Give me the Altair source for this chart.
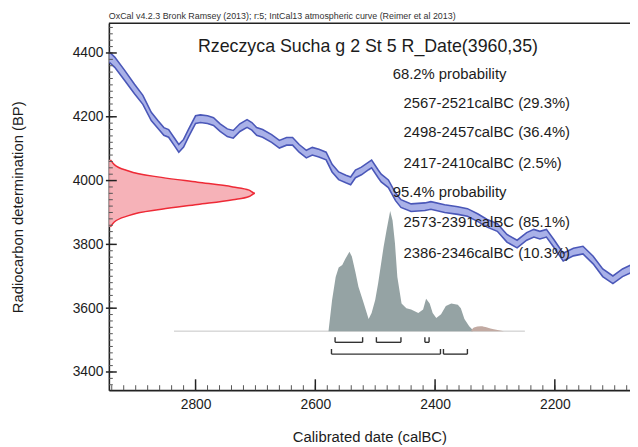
import altair as alt
import pandas as pd

# ---------------- data ----------------
# calibration curve (IntCal13) mean, calBC year vs BP
cal_year = [2944, 2935, 2919, 2902, 2888, 2874, 2863, 2853, 2845, 2836,
            2828, 2820, 2812, 2800, 2792, 2780, 2770, 2759, 2747, 2737,
            2726, 2714, 2706, 2698, 2688, 2673, 2660, 2648, 2638, 2627,
            2615, 2605, 2594, 2582, 2572, 2561, 2549, 2541, 2533, 2523,
            2511, 2506, 2495, 2490, 2478, 2466, 2457, 2440, 2417, 2407,
            2384, 2362, 2346, 2329, 2313, 2296, 2280, 2263, 2247, 2235,
            2225, 2214, 2202, 2186, 2169, 2153, 2136, 2120, 2103, 2087,
            2070]
cal_bp = [4387, 4371, 4331, 4287, 4253, 4201, 4176, 4154, 4148, 4123,
          4101, 4117, 4148, 4191, 4194, 4191, 4185, 4166, 4150, 4145,
          4166, 4179, 4170, 4154, 4148, 4132, 4114, 4123, 4123, 4101,
          4083, 4092, 4086, 4077, 4039, 4015, 4005, 3999, 4021, 4030,
          4046, 4052, 4021, 4008, 3990, 3949, 3928, 3915, 3918, 3922,
          3912, 3906, 3900, 3884, 3866, 3853, 3819, 3801, 3825, 3835,
          3829, 3835, 3804, 3760, 3776, 3782, 3751, 3711, 3689, 3711,
          3726]
cal_sigma = [16, 16, 16, 15, 14, 13, 12, 12, 12, 12,
             12, 12, 12, 12, 12, 12, 12, 12, 12, 12,
             12, 12, 12, 12, 12, 12, 12, 12, 12, 12,
             12, 12, 12, 12, 12, 12, 12, 12, 12, 12,
             12, 12, 12, 12, 12, 12, 12, 12, 12, 12,
             12, 12, 12, 12, 12, 12, 12, 12, 12, 12,
             12, 12, 12, 12, 12, 12, 12, 12, 12, 12,
             12]

# radiocarbon measurement R_Date(3960,35): relative density vs BP
red_bp = [3855, 3870, 3890, 3910, 3925, 3940, 3950, 3960, 3970, 3980, 3995, 4010, 4030, 4050, 4065]
red_d = [0.011, 0.037, 0.135, 0.36, 0.607, 0.849, 0.96, 1.0, 0.96, 0.849, 0.607, 0.36, 0.135, 0.037, 0.011]

# calibrated probability distribution (relative)
post_year = [2578, 2572, 2566, 2561, 2555, 2550, 2543, 2539, 2533, 2528,
             2519, 2511, 2506, 2500, 2495, 2486, 2481, 2475, 2471, 2467,
             2463, 2456, 2448, 2440, 2428, 2420, 2415, 2409, 2404, 2398,
             2390, 2382, 2373, 2362, 2357, 2351, 2343, 2337]
post_d = [0, 0.26, 0.45, 0.53, 0.55, 0.60, 0.66, 0.62, 0.49, 0.37,
          0.23, 0.10, 0.15, 0.26, 0.40, 0.70, 0.84, 1.0, 0.92, 0.73,
          0.45, 0.23, 0.19, 0.18, 0.15, 0.18, 0.27, 0.23, 0.15, 0.11,
          0.14, 0.21, 0.23, 0.22, 0.19, 0.10, 0.04, 0.01]
tail_year = [2340, 2335, 2324, 2313, 2302, 2285]
tail_d = [0, 0.03, 0.04, 0.03, 0.015, 0]

# ranges
r68_start = [2567, 2498, 2417]
r68_end = [2521, 2457, 2410]
r95_start = [2573, 2386]
r95_end = [2391, 2346]

title_text = "Rzeczyca Sucha g 2 St 5 R_Date(3960,35)"
header_text = "OxCal v4.2.3 Bronk Ramsey (2013); r:5; IntCal13 atmospheric curve (Reimer et al 2013)"
prob_lines = ["68.2% probability", "2567-2521calBC (29.3%)", "2498-2457calBC (36.4%)",
              "2417-2410calBC (2.5%)", "95.4% probability", "2573-2391calBC (85.1%)",
              "2386-2346calBC (10.3%)"]
prob_px = [287, 298, 298, 298, 287, 298, 298]
prob_py = [51, 81, 110, 141, 171, 201, 232]
x_labels = [2800, 2600, 2400, 2200]
y_labels = [3400, 3600, 3800, 4000, 4200, 4400]

# ---------------- layout ----------------
W, H = 527, 371
YPP = 1.6515          # years per pixel
XD = [2944.8 - W * YPP, 2944.8]
YD = [3343, 4493]
BASE = 3528          # BP level of the distribution baseline
PEAK = 377           # BP height of the distribution peak
RED_W = 244          # years width of the red peak
FONT = "Liberation Sans"
INK = "#1c1c1c"

xs = alt.Scale(domain=XD, reverse=True, nice=False, zero=False)
ys = alt.Scale(domain=YD, nice=False, zero=False)
x_axis = alt.Axis(values=x_labels, title="Calibrated date (calBC)", grid=False, ticks=False,
                  labelPadding=8, titlePadding=18, format="d")
y_axis = alt.Axis(values=y_labels, title="Radiocarbon determination (BP)", grid=False,
                  ticks=False, labelPadding=6, titlePadding=47, format="d")


def X(f):
    return alt.X(f, scale=xs, axis=x_axis)


def Y(f):
    return alt.Y(f, scale=ys, axis=y_axis)


cal = pd.DataFrame({"year": cal_year, "bp": cal_bp, "sig": cal_sigma})
cal["hi"] = cal["bp"] + cal["sig"]
cal["lo"] = cal["bp"] - cal["sig"]

red = pd.DataFrame({"bp": red_bp, "d": red_d})
red["xe"] = XD[1] - red["d"] * RED_W
red["xb"] = XD[1]

post = pd.DataFrame({"year": post_year, "d": post_d})
post["top"] = BASE + post["d"] * PEAK
post["base"] = BASE
tail = pd.DataFrame({"year": tail_year, "d": tail_d})
tail["top"] = BASE + tail["d"] * PEAK
tail["base"] = BASE

baseline = alt.Chart(pd.DataFrame({"a": [2836], "b": [2250], "bp": [BASE]})).mark_rule(
    color="#c4c4c4", strokeWidth=1).encode(x=X("a:Q"), x2="b:Q", y=Y("bp:Q"))

post_area = alt.Chart(post).mark_area(color="#95a3a4", opacity=1, interpolate="linear").encode(
    x=X("year:Q"), y=Y("top:Q"), y2="base:Q")
tail_area = alt.Chart(tail).mark_area(color="#c2aaa2", interpolate="monotone").encode(
    x=X("year:Q"), y=Y("top:Q"), y2="base:Q")

red_area = alt.Chart(red).mark_area(orient="horizontal", color="#f4a4ac", opacity=0.85,
                                    interpolate="monotone").encode(
    y=Y("bp:Q"), x=X("xe:Q"), x2="xb:Q")
red_line = alt.Chart(red).mark_line(color="#ee2a36", strokeWidth=1.5, interpolate="monotone").encode(
    y=Y("bp:Q"), x=X("xe:Q"), order=alt.Order("bp:Q"))

band = alt.Chart(cal).mark_area(color="#a9b1e8", opacity=1, clip=True).encode(
    x=X("year:Q"), y=Y("hi:Q"), y2="lo:Q")
band_hi = alt.Chart(cal).mark_line(color="#4a57b8", strokeWidth=1.6, clip=True).encode(
    x=X("year:Q"), y=Y("hi:Q"))
band_lo = alt.Chart(cal).mark_line(color="#4a57b8", strokeWidth=1.6, clip=True).encode(
    x=X("year:Q"), y=Y("lo:Q"))

# range brackets
L68, T68, L95, T95 = 3493, 3509, 3456, 3472
br = pd.DataFrame({"s": r68_start + r95_start, "e": r68_end + r95_end,
                   "lv": [L68] * 3 + [L95] * 2, "tp": [T68] * 3 + [T95] * 2})
br_ends = pd.DataFrame({"year": r68_start + r68_end + r95_start + r95_end,
                        "lv": [L68] * 6 + [L95] * 4, "tp": [T68] * 6 + [T95] * 4})
br_h = alt.Chart(br).mark_rule(color="#333", strokeWidth=1.4).encode(
    x=X("s:Q"), x2="e:Q", y=Y("lv:Q"))
br_v = alt.Chart(br_ends).mark_rule(color="#333", strokeWidth=1.4).encode(
    x=X("year:Q"), y=Y("lv:Q"), y2="tp:Q")

# ticks (inward)
x_minor = pd.DataFrame({"year": list(range(2940, 2069, -20))})
x_major = pd.DataFrame({"year": x_labels})
y_minor = pd.DataFrame({"bp": list(range(3360, 4481, 20))})
y_major = pd.DataFrame({"bp": y_labels})
xt_min = alt.Chart(x_minor).mark_rule(color="#555", strokeWidth=1).encode(
    x=X("year:Q"), y=alt.value(H), y2=alt.value(H - 5))
xt_maj = alt.Chart(x_major).mark_rule(color="#222", strokeWidth=1.5).encode(
    x=X("year:Q"), y=alt.value(H), y2=alt.value(H - 11))
yt_min = alt.Chart(y_minor).mark_rule(color="#555", strokeWidth=1).encode(
    y=Y("bp:Q"), x=alt.value(0), x2=alt.value(4))
yt_maj = alt.Chart(y_major).mark_rule(color="#222", strokeWidth=1.5).encode(
    y=Y("bp:Q"), x=alt.value(-3), x2=alt.value(8))
top_line = alt.Chart(pd.DataFrame({"a": [0]})).mark_rule(color="#222", strokeWidth=1.5).encode(
    x=alt.value(0), x2=alt.value(W), y=alt.value(0))

# texts
header = alt.Chart(pd.DataFrame({"t": [header_text]})).mark_text(
    align="left", baseline="middle", fontSize=9, font=FONT, color="#333").encode(
    text="t:N", x=alt.value(0), y=alt.value(-7))
title = alt.Chart(pd.DataFrame({"t": [title_text]})).mark_text(
    align="center", baseline="middle", fontSize=18, font=FONT, color=INK).encode(
    text="t:N", x=alt.value(262), y=alt.value(24))
texts = []
for t, px, py in zip(prob_lines, prob_px, prob_py):
    texts.append(alt.Chart(pd.DataFrame({"t": [t]})).mark_text(
        align="left", baseline="middle", fontSize=15, font=FONT, color=INK).encode(
        text="t:N", x=alt.value(px), y=alt.value(py)))

chart = alt.layer(
    baseline, post_area, tail_area, red_area, red_line, band, band_hi, band_lo,
    br_h, br_v, xt_min, xt_maj, yt_min, yt_maj, top_line, header, title, *texts
).properties(
    width=W, height=H,
    autosize=alt.AutoSizeParams(type="none"),
    padding={"left": 102, "top": 13, "right": 0, "bottom": 55},
).configure_view(stroke=None).configure_axis(
    labelFont=FONT, labelFontSize=14, labelColor=INK,
    titleFont=FONT, titleFontSize=15, titleFontWeight="normal", titleColor=INK,
    domainColor="#222", domainWidth=1.6,
)

chart.save("out.html", embed_options={"renderer": "svg", "actions": False})
